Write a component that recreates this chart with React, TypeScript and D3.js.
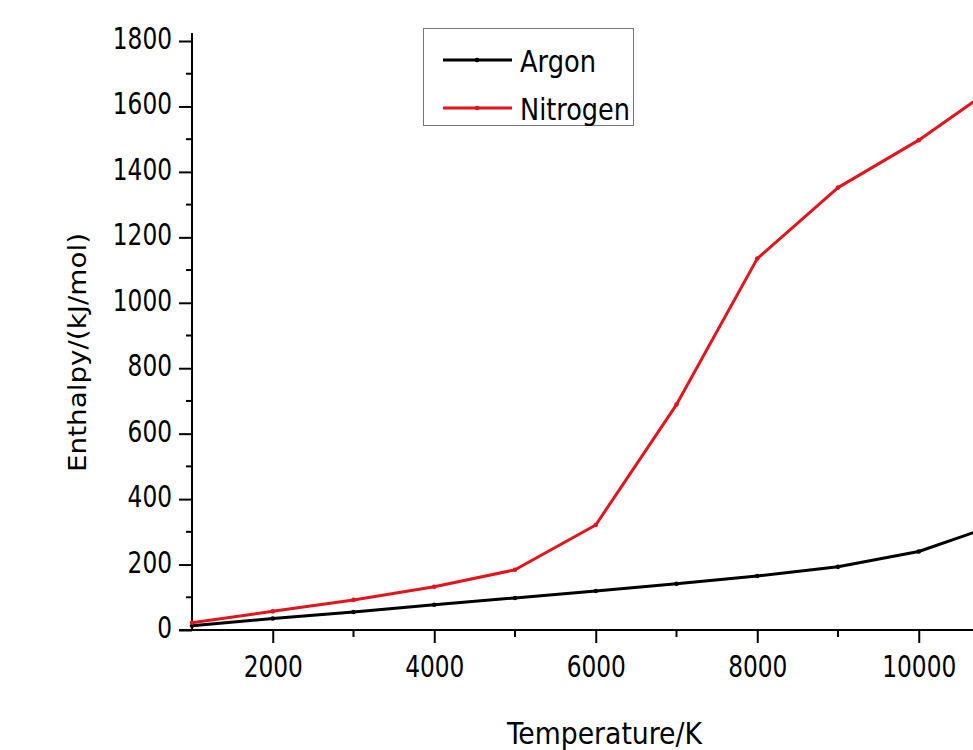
import { useEffect, useRef } from 'react'
import * as d3 from 'd3'

// temperatures (K)
const temperatures = [1000, 2000, 3000, 4000, 5000, 6000, 7000, 8000, 9000, 10000, 11000]
// enthalpy (kJ/mol)
const argon = [13, 35, 55, 77, 98, 119, 141, 165, 193, 240, 325]
const nitrogen = [22, 57, 92, 132, 184, 321, 689, 1135, 1352, 1497, 1670]

const xTicks = [2000, 4000, 6000, 8000, 10000]
const yTicks = [0, 200, 400, 600, 800, 1000, 1200, 1400, 1600, 1800]

const SERIES = [
  { name: 'Argon', values: argon, color: '#000000', width: 76 },
  { name: 'Nitrogen', values: nitrogen, color: '#e3141b', width: 110 },
]

const W = 973
const H = 750
const FONT = '"DejaVu Sans Condensed", "Liberation Sans Narrow", sans-serif'
const DIGIT_W = 14.8

export default function App() {
  const svgRef = useRef<SVGSVGElement | null>(null)

  useEffect(() => {
    if (!svgRef.current) return
    const svg = d3.select(svgRef.current)
    svg.selectAll('*').remove()

    // plot runs past the right edge of the picture
    const x = d3.scaleLinear().domain([1000, 11000]).range([192, 192 + 80.75 * 10])
    const y = d3.scaleLinear().domain([0, 1800]).range([630, 41])

    // ── Y axis ──────────────────────────────────────────────────────────
    svg.append('g').selectAll('line').data(d3.range(100, 1800, 200)).join('line')
      .attr('x1', 186).attr('x2', 192)
      .attr('y1', (d) => y(d)).attr('y2', (d) => y(d))
      .attr('stroke', '#000').attr('stroke-width', 2)

    const yAxis = svg.append('g').attr('transform', 'translate(192,0)')
      .call(d3.axisLeft(y).tickValues(yTicks).tickSize(13).tickFormat(d3.format('d')))
    yAxis.select('.domain').attr('stroke-width', 2).attr('d', `M0,${y(0)}V${y(1800) - 8}`)
    yAxis.selectAll('line').attr('stroke-width', 2)
    yAxis.selectAll<SVGTextElement, number>('text')
      .attr('font-family', FONT).attr('font-size', 30).attr('fill', '#000')
      .attr('x', -20).attr('y', 7.5).attr('dy', null)
      .attr('textLength', (d) => String(d).length * DIGIT_W)
      .attr('lengthAdjust', 'spacingAndGlyphs')

    // ── X axis ──────────────────────────────────────────────────────────
    svg.append('g').selectAll('line').data(d3.range(3000, 11001, 2000)).join('line')
      .attr('x1', (d) => x(d)).attr('x2', (d) => x(d))
      .attr('y1', 630).attr('y2', 637)
      .attr('stroke', '#000').attr('stroke-width', 2)

    const xAxis = svg.append('g').attr('transform', 'translate(0,630)')
      .call(d3.axisBottom(x).tickValues(xTicks).tickSize(13).tickFormat(d3.format('d')))
    xAxis.select('.domain').attr('stroke-width', 2).attr('d', `M${x(1000) - 13},0H${x(11000)}`)
    xAxis.selectAll('line').attr('stroke-width', 2)
    xAxis.selectAll<SVGTextElement, number>('text')
      .attr('font-family', FONT).attr('font-size', 30).attr('fill', '#000')
      .attr('y', 47).attr('dy', null)
      .attr('textLength', (d) => String(d).length * DIGIT_W)
      .attr('lengthAdjust', 'spacingAndGlyphs')

    // ── Axis titles ─────────────────────────────────────────────────────
    svg.append('text')
      .attr('x', 604.5).attr('y', 744)
      .attr('text-anchor', 'middle')
      .attr('font-family', FONT).attr('font-size', 30)
      .attr('textLength', 195).attr('lengthAdjust', 'spacingAndGlyphs')
      .text('Temperature/K')

    svg.append('text')
      .attr('transform', 'translate(86,352.5) rotate(-90)')
      .attr('text-anchor', 'middle')
      .attr('font-family', FONT).attr('font-size', 25)
      .attr('textLength', 239).attr('lengthAdjust', 'spacingAndGlyphs')
      .text('Enthalpy/(kJ/mol)')

    // ── Lines ───────────────────────────────────────────────────────────
    const line = d3.line<number>()
      .x((_, i) => x(temperatures[i]))
      .y((d) => y(d))

    SERIES.forEach(({ values, color }) => {
      svg.append('path')
        .datum(values)
        .attr('fill', 'none')
        .attr('stroke', color)
        .attr('stroke-width', 3)
        .attr('stroke-linejoin', 'round')
        .attr('d', line)

      svg.append('g').selectAll('circle').data(values).join('circle')
        .attr('cx', (_, i) => x(temperatures[i]))
        .attr('cy', (d) => y(d))
        .attr('r', 2.3)
        .attr('fill', color)
    })

    // ── Legend ──────────────────────────────────────────────────────────
    const legend = svg.append('g')
    legend.append('rect')
      .attr('x', 423.5).attr('y', 28.5).attr('width', 210).attr('height', 97)
      .attr('fill', '#fff').attr('stroke', '#777').attr('stroke-width', 1)
    SERIES.forEach(({ name, color, width }, i) => {
      const ly = 60 + i * 48
      legend.append('line')
        .attr('x1', 443).attr('x2', 512).attr('y1', ly).attr('y2', ly)
        .attr('stroke', color).attr('stroke-width', 3)
      legend.append('circle').attr('cx', 477).attr('cy', ly).attr('r', 2.3).attr('fill', color)
      legend.append('text')
        .attr('x', 520).attr('y', ly + 11.5)
        .attr('font-family', FONT).attr('font-size', 31)
        .attr('textLength', width).attr('lengthAdjust', 'spacingAndGlyphs')
        .text(name)
    })
  }, [])

  return (
    <svg
      ref={svgRef}
      width={W}
      height={H}
      style={{ position: 'absolute', left: 0, top: 0, overflow: 'hidden', background: '#fff' }}
    />
  )
}
